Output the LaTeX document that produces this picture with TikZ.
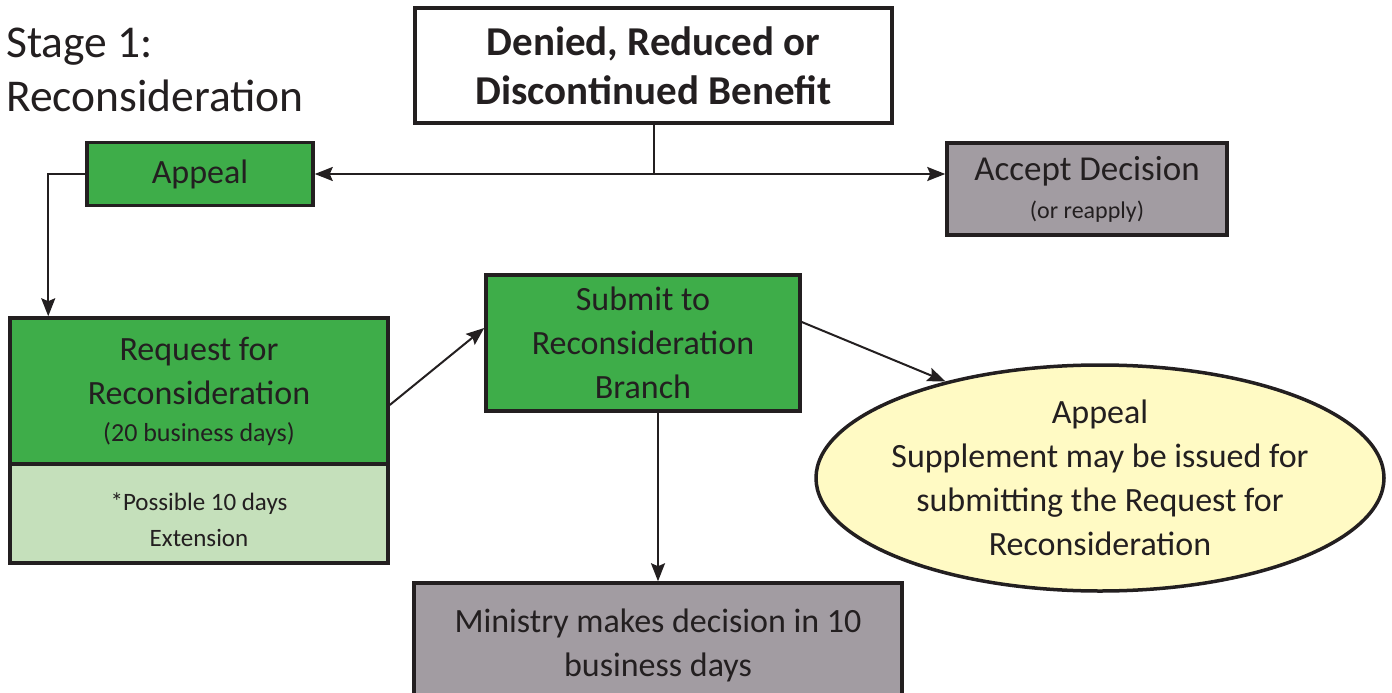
\documentclass[tikz,border=0pt]{standalone}
\usepackage{fontspec}
\setmainfont{Carlito}
\usetikzlibrary{arrows.meta,shapes.geometric}
\definecolor{apgreen}{RGB}{62,173,73}
\definecolor{aplight}{RGB}{197,224,187}
\definecolor{apgray}{RGB}{162,156,162}
\definecolor{apyellow}{RGB}{255,250,196}
\definecolor{aptext}{RGB}{35,31,32}

\begin{document}
\begin{tikzpicture}[x=1pt, y=-1pt,
  stepbox/.style={draw=aptext, line width=3.5pt, align=center, text=aptext,
    font=\fontsize{34}{44}\selectfont, inner sep=0pt},
  arr/.style={-{Stealth[length=18pt, width=14pt, inset=3pt]}, line width=2pt, aptext}]
\clip (0,0) rectangle (1392,693);
% Title
\node[anchor=north west, align=left, inner sep=0pt, text=aptext,
  font=\fontsize{45.5}{54}\selectfont] (stage) at (6,28) {Stage 1:\\Reconsideration};
% Top: decision
\node[stepbox, fill=white, minimum width=477pt, minimum height=115pt,
  font=\bfseries\fontsize{41}{49}\selectfont] (denied) at (653.5,65.5)
  {Denied, Reduced or\\Discontinued Benefit};
% Left: Appeal
\node[stepbox, fill=apgreen, minimum width=226pt, minimum height=63pt] (appeal) at (200,174)
  {\raisebox{-5pt}{Appeal}};
% Right: Accept
\node[stepbox, fill=apgray, minimum width=280pt, minimum height=92pt,
  font=\fontsize{35}{44}\selectfont] (accept) at (1087,189)
  {Accept Decision\\[-6pt]{\fontsize{24}{30}\selectfont (or reapply)}};
\coordinate (split) at (denied.south |- appeal.east);
\draw[line width=2pt, aptext] (denied.south) -- (split);
\draw[arr] (split) -- (appeal.east);
\draw[arr] (split) -- (split -| accept.west);
% Request and extension
\node[stepbox, fill=apgreen, minimum width=378pt, minimum height=146pt] (request) at (199,391)
  {Request for\\Reconsideration\\[-7pt]{\fontsize{26}{30}\selectfont (20 business days)}};
\node[stepbox, fill=aplight, minimum width=378pt, minimum height=99pt,
  font=\fontsize{25}{36}\selectfont] (ext) at (199,513.5)
  {\rule{0pt}{30pt}*Possible 10 days\\Extension};
\draw[arr] (appeal.west) -| ([xshift=40pt]request.north west);
% Middle: Submit
\node[stepbox, fill=apgreen, minimum width=314pt, minimum height=136pt] (submit) at (643,343)
  {Submit to\\Reconsideration\\Branch};
\draw[arr] ([yshift=-14pt]request.east) -- ([yshift=15pt]submit.west);
% Right: supplement
\node[stepbox, ellipse, fill=apyellow, minimum width=568pt, minimum height=226pt,
  inner sep=-20pt] (supp) at (1100,478)
  {Appeal\\Supplement may be issued for\\submitting the Request for\\Reconsideration};
\draw[arr] ([yshift=21pt]submit.east) -- (supp.148);
% Bottom: Ministry
\node[stepbox, fill=apgray, minimum width=488pt, minimum height=124pt] (ministry) at (658,645)
  {Ministry makes decision in 10\\business days};
\draw[arr] (submit.south -| ministry.north) -- (ministry.north);
\end{tikzpicture}
\end{document}
